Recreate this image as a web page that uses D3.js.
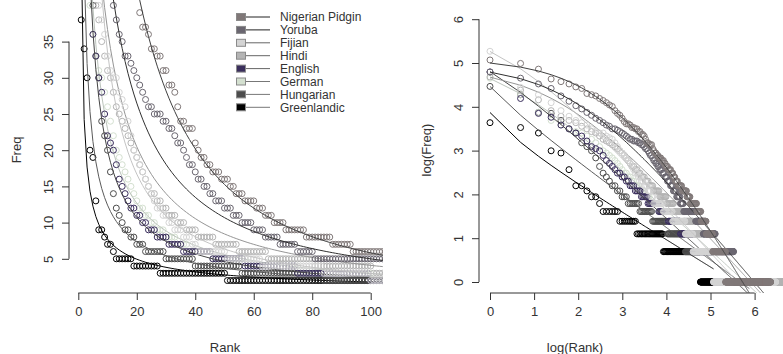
<!DOCTYPE html>
<html>
<head>
<meta charset="utf-8">
<script src="https://cdn.jsdelivr.net/npm/d3@7"></script>
<style>
  body { margin: 0; background: #fff; }
  text { font-family: "Liberation Sans", Arial, sans-serif; fill: #333; }
</style>
</head>
<body>
<div id="chart"></div>
<script>
// languages in legend order
const languages = ["Nigerian Pidgin", "Yoruba", "Fijian", "Hindi", "English", "German", "Hungarian", "Greenlandic"];
const fillColors = ["#807878", "#6a6670", "#d4d4d4", "#b4b4b4", "#3a2e5c", "#d4e0d0", "#4c4c4c", "#000000"];
const lineColors = ["#404040", "#303030", "#c4c4c4", "#959595", "#454545", "#bcc4bc", "#5a5a5a", "#000000"];
const legendLineColors = ["#222", "#222", "#666", "#666", "#666", "#777", "#777", "#777"];

// word frequencies of the top ranks (one value per rank)
const pidginHead = [159,147,129,103,97,92,86,83,74,72,70,66,63,60,57,55,50,47,45,42,39,37,37,36,34,34,33,33,31,31,29,29,28,26,24,24,23,23,23,21,20,19,19,18,18,17,17,17,16,16,16,15,15,14,14,14,13,13,13,13,12,12,12,11,11,11,10,10,10,10];
const yorubaHead = [121,105,92,83,70,62,56,52,48,45,42,40,38,36,35,33,33,32,31,30,29,28,27,26,26,25,25,25,24,24,23,23,22,21,21,20,19,18,18,17,16,16,15,15,14,14,13,13,13,12,12,12,11,11,11,10,10,10,10,9,9,9,9,8,8,8,8,8,7,7,7,7,7,7,6,6,6,6,6,6];
const fijianHead = [194,85,72,60,50,44,40,38,36,33,31,30,30,28,27,26,24,22,20,19,18,17,16,15,14,13,12,12,11,11,10,10,9,9,9,8,8,8,7,7];
const hindiHead = [108,80,64,50,44,40,38,35,33,31,30,28,26,25,24,23,22,21,20,19,18,17,16,15,14,14,13,13,12,12,11,11,11,10,10,10,9,9,9,9];
const englishHead = [121,66,47,43,36,33,30,28,25,22,21,20,18,16,15,14,13,12,12,11,11,10,10,9,9,9,8,8,8,8,7,7,7,7,7];
const germanHead = [105,72,48,40,36,33,31,30,28,26,24,22,20,19,18,17,16,15,14,13,12,12,11,11,10,10,9,9,9,8,8,8,8,7,7,7,7];
const hungarianHead = [87,72,48,47,40,33,30,24,22,20,17,14,12,11,10,9,9,8,8,7,7,7,6,6,6,6,6,6,6];
const greenlandicHead = [38,34,30,20,19,13,9,9,8,7,7,6];

// low frequencies: [frequency, number of words]
const pidginTail = [[9,7],[8,9],[7,7],[6,15],[5,11],[4,15],[3,21],[2,53],[1,372]];
const yorubaTail = [[5,25],[4,20],[3,40],[2,85],[1,300]];
const fijianTail = [[6,10],[5,12],[4,21],[3,16],[2,59],[1,492]];
const hindiTail = [[8,6],[7,8],[6,10],[5,16],[4,20],[3,30],[2,70],[1,620]];
const englishTail = [[6,10],[5,11],[4,18],[3,25],[2,60],[1,260]];
const germanTail = [[6,8],[5,12],[4,18],[3,25],[2,60],[1,300]];
const hungarianTail = [[5,10],[4,16],[3,28],[2,75],[1,200]];
const greenlandicTail = [[5,6],[4,9],[3,23],[2,67],[1,42]];

// fitted model: log(freq) = a - b * log(rank + q)
const fitParams = [[10.0,1.73,17],[7.21,1.2,6.5],[6.18,1.1,1.3],[6.57,1.11,4.5],[5.18,0.93,0.5],[5.38,0.93,1.2],[4.2,0.74,-0.3],[3.44,0.62,-0.5]];

const heads = [pidginHead, yorubaHead, fijianHead, hindiHead, englishHead, germanHead, hungarianHead, greenlandicHead];
const tails = [pidginTail, yorubaTail, fijianTail, hindiTail, englishTail, germanTail, hungarianTail, greenlandicTail];

const series = languages.map(function (name, i) {
    let freqs = heads[i].slice();
    tails[i].forEach(function (t) { for (let k = 0; k < t[1]; k++) freqs.push(t[0]); });
    let p = fitParams[i];
    return {
        name: name, fill: fillColors[i], line: lineColors[i],
        pts: freqs.map(function (f, j) {
            let r = j + 1;
            return { rank: r, freq: f, fit: Math.exp(p[0] - p[1] * Math.log(r + p[2])) };
        })
    };
});

let width = 783, height = 354;
let svg = d3.select('#chart').append('svg')
    .attr('width', width).attr('height', height);

let x1 = d3.scaleLinear().domain([0, 100]).range([78.3, 370.7]);
let y1 = d3.scaleLinear().domain([0, 35]).range([295, 41.6]);
let x2 = d3.scaleLinear().domain([0, 6]).range([490, 754.6]);
let y2 = d3.scaleLinear().domain([0, 6]).range([282, 19.2]);

let defs = svg.append('defs');
defs.append('clipPath').attr('id', 'clipL').append('rect')
    .attr('x', 69).attr('y', -5).attr('width', 314).attr('height', 298);
defs.append('clipPath').attr('id', 'clipR').append('rect')
    .attr('x', 479).attr('y', -5).attr('width', 320).attr('height', 298);

let left = svg.append('g').attr('clip-path', 'url(#clipL)');
let right = svg.append('g').attr('clip-path', 'url(#clipR)');

let lineL = d3.line().x(d => x1(d.rank)).y(d => y1(d.fit));
let lineR = d3.line().x(d => x2(Math.log(d.rank))).y(d => y2(Math.log(d.fit)));

// Greenlandic first, Nigerian Pidgin on top
series.slice().reverse().forEach(function (s) {
    let near = s.pts.filter(d => d.rank <= 110);
    left.selectAll(null).data(near).enter().append('circle')
        .attr('cx', d => x1(d.rank))
        .attr('cy', d => y1(d.freq))
        .attr('r', 3)
        .attr('fill', 'none')
        .attr('stroke', s.fill)
        .attr('stroke-width', 1);
    left.append('path').datum(near)
        .attr('d', lineL)
        .attr('fill', 'none')
        .attr('stroke', s.line)
        .attr('stroke-width', 1);

    right.selectAll(null).data(s.pts).enter().append('circle')
        .attr('cx', d => x2(Math.log(d.rank)))
        .attr('cy', d => y2(Math.log(d.freq)))
        .attr('r', 3)
        .attr('fill', 'none')
        .attr('stroke', s.fill)
        .attr('stroke-width', 1);
    right.append('path').datum(s.pts)
        .attr('d', lineR)
        .attr('fill', 'none')
        .attr('stroke', s.line)
        .attr('stroke-width', 1);
});

// axes
function styleAxis(g, rotate, path) {
    g.select('.domain').attr('d', path).attr('stroke', '#333');
    g.selectAll('.tick line').attr('stroke', '#333');
    g.selectAll('.tick text').style('font-size', '13px').attr('fill', '#444');
    if (rotate) {
        g.selectAll('.tick text')
            .attr('x', null).attr('dy', null).attr('y', 0)
            .attr('text-anchor', 'middle')
            .attr('transform', 'translate(-16,0) rotate(-90)');
    }
}

svg.append('g').attr('transform', 'translate(0,293)')
    .call(d3.axisBottom(x1).tickValues([0, 20, 40, 60, 80, 100]).tickSize(7).tickPadding(7))
    .call(g => styleAxis(g, false, 'M' + x1(0) + ',0H' + x1(100)));
svg.append('g').attr('transform', 'translate(69,0)')
    .call(d3.axisLeft(y1).tickValues([5, 10, 15, 20, 25, 30, 35]).tickSize(7))
    .call(g => styleAxis(g, true, 'M0,' + y1(5) + 'V' + y1(35)));
svg.append('g').attr('transform', 'translate(0,293)')
    .call(d3.axisBottom(x2).ticks(6).tickSize(7).tickPadding(7))
    .call(g => styleAxis(g, false, 'M' + x2(0) + ',0H' + x2(6)));
svg.append('g').attr('transform', 'translate(479,0)')
    .call(d3.axisLeft(y2).ticks(6).tickSize(7))
    .call(g => styleAxis(g, true, 'M0,' + y2(0) + 'V' + y2(6)));

svg.selectAll('.tick text').attr('font-family', null);

// axis titles
svg.append('text').attr('x', 225).attr('y', 352).attr('text-anchor', 'middle')
    .style('font-size', '13px').text('Rank');
svg.append('text').attr('transform', 'translate(21,150) rotate(-90)').attr('text-anchor', 'middle')
    .style('font-size', '13px').text('Freq');
svg.append('text').attr('x', 575).attr('y', 352).attr('text-anchor', 'middle')
    .style('font-size', '13px').text('log(Rank)');
svg.append('text').attr('transform', 'translate(431,150) rotate(-90)').attr('text-anchor', 'middle')
    .style('font-size', '13px').text('log(Freq)');

// legend
let legend = svg.append('g');
languages.forEach(function (name, i) {
    let cy = 17 + 12.9 * i;
    legend.append('line')
        .attr('x1', 245).attr('x2', 270).attr('y1', cy).attr('y2', cy)
        .attr('stroke', legendLineColors[i]).attr('stroke-width', 1);
    legend.append('rect')
        .attr('x', 236.5).attr('y', cy - 3.5).attr('width', 9).attr('height', 7)
        .attr('fill', fillColors[i]).attr('stroke', '#8a8a8a').attr('stroke-width', 1);
    legend.append('text')
        .attr('x', 280).attr('y', cy + 4.3)
        .style('font-size', '12px').text(name);
});
</script>
</body>
</html>
